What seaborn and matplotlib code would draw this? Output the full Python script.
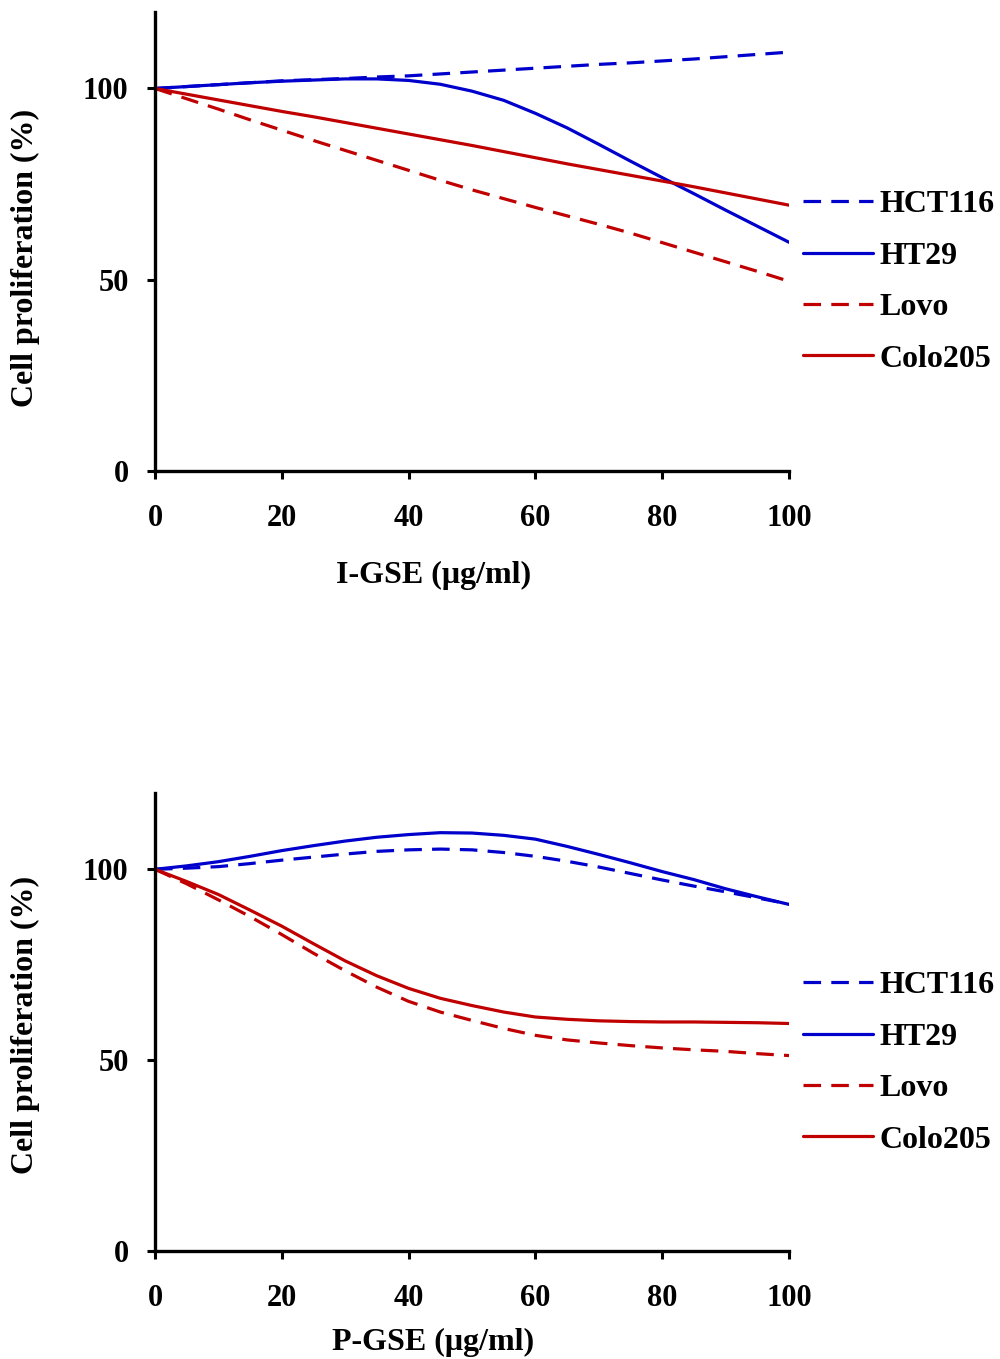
import numpy as np
import pandas as pd
import matplotlib
matplotlib.use("Agg")
import matplotlib.pyplot as plt
import seaborn as sns

dose = [0, 5, 10, 15, 20, 25, 30, 35, 40, 45, 50, 55, 60, 65, 70, 75, 80, 85, 90, 95, 100]

# I-GSE panel
i_hct116 = [100, 100.5, 101.0, 101.5, 102.0, 102.3, 102.6, 103.0, 103.3, 103.8, 104.3,
            104.8, 105.3, 105.8, 106.3, 106.7, 107.2, 107.7, 108.3, 108.9, 109.5]
i_ht29 = [100, 100.5, 101.0, 101.5, 101.9, 102.2, 102.5, 102.5, 102.1, 101.1, 99.3,
          96.9, 93.5, 89.7, 85.4, 81.0, 76.7, 72.5, 68.2, 64.0, 59.8]
i_lovo = [100, 97.3, 94.6, 91.8, 89.1, 86.4, 83.8, 81.2, 78.6, 76.0, 73.5,
          71.2, 68.9, 66.7, 64.5, 62.2, 59.7, 57.2, 54.7, 52.2, 49.6]
i_colo205 = [100, 98.5, 97.0, 95.5, 94.0, 92.6, 91.1, 89.6, 88.1, 86.6, 85.1,
             83.5, 81.9, 80.3, 78.8, 77.3, 75.8, 74.3, 72.7, 71.1, 69.5]

# P-GSE panel
p_hct116 = [100, 100.3, 100.7, 101.5, 102.4, 103.2, 104.0, 104.7, 105.1, 105.3, 105.1,
            104.4, 103.4, 102.1, 100.6, 98.9, 97.2, 95.6, 94.1, 92.5, 90.9]
p_ht29 = [100, 100.9, 102.0, 103.4, 104.9, 106.2, 107.4, 108.4, 109.1, 109.6, 109.5,
          108.9, 107.9, 106.0, 103.9, 101.7, 99.4, 97.3, 94.9, 92.8, 90.8]
p_lovo = [100, 96.2, 92.0, 87.6, 82.9, 78.0, 73.4, 69.1, 65.4, 62.6, 60.4,
          58.3, 56.5, 55.3, 54.5, 53.8, 53.2, 52.7, 52.3, 51.7, 51.2]
p_colo205 = [100, 96.8, 93.4, 89.3, 85.1, 80.5, 76.0, 72.1, 68.8, 66.2, 64.3,
             62.6, 61.3, 60.7, 60.3, 60.1, 60.0, 60.0, 59.9, 59.8, 59.6]

cell_lines = ["HCT116", "HT29", "Lovo", "Colo205"]
xlabels = ["I-GSE (\u03bcg/ml)", "P-GSE (\u03bcg/ml)"]

BLUE = "#0000CC"
RED = "#C00000"
palette = {"HCT116": BLUE, "HT29": BLUE, "Lovo": RED, "Colo205": RED}
dashes = {"HCT116": (5.5, 3.2), "HT29": "", "Lovo": (5.5, 3.2), "Colo205": ""}


def long_form(series):
    rows = []
    for name, vals in zip(cell_lines, series):
        for d, v in zip(dose, vals):
            rows.append({"dose": d, "prolif": v, "line": name})
    return pd.DataFrame(rows)


panels = [long_form([i_hct116, i_ht29, i_lovo, i_colo205]),
          long_form([p_hct116, p_ht29, p_lovo, p_colo205])]

sns.set_style("ticks")
plt.rcParams["font.family"] = ["Liberation Serif", "DejaVu Serif"]
plt.rcParams["font.weight"] = "bold"
plt.rcParams["text.color"] = "black"
plt.rcParams["axes.labelcolor"] = "black"

fig = plt.figure(figsize=(10, 13.59), dpi=100)
ax_rects = [[0.155, 0.6534, 0.634, 0.3378], [0.155, 0.0795, 0.634, 0.3370]]
legend_tops = [190 / 1359, 971 / 1359]
xlabel_y = [-0.2266, -0.1987]
ylabel_y = [0.464, 0.493]

for k in range(2):
    ax = fig.add_axes(ax_rects[k])
    sns.lineplot(data=panels[k], x="dose", y="prolif", hue="line", style="line",
                 palette=palette, dashes=dashes, hue_order=cell_lines,
                 style_order=cell_lines, linewidth=2.3, legend=False, ax=ax)
    ax.set_xlim(0, 100)
    ax.set_ylim(0, 120)
    ax.set_xticks([0, 20, 40, 60, 80, 100])
    ax.set_yticks([0, 50, 100])
    for s in ["top", "right"]:
        ax.spines[s].set_visible(False)
    for s in ["left", "bottom"]:
        ax.spines[s].set_linewidth(2.4)
        ax.spines[s].set_color("black")
    ax.tick_params(direction="out", length=6, width=2.2, labelsize=22,
                   colors="black")
    ax.tick_params(axis="y", pad=13)
    ax.tick_params(axis="x", pad=18)
    for lab in ax.get_xticklabels() + ax.get_yticklabels():
        lab.set_fontweight("bold")
    ax.set_xlabel(xlabels[k], fontsize=23, fontweight="bold", va="center",
                  color="black")
    ax.set_ylabel("Cell proliferation (%)", fontsize=23, fontweight="bold",
                  va="center", color="black")
    ax.xaxis.set_label_coords(0.439, xlabel_y[k])
    ax.yaxis.set_label_coords(-0.205, ylabel_y[k])

    handles = ax.get_lines()[:4]
    leg = fig.legend(handles, cell_lines, loc="upper left",
                     bbox_to_anchor=(0.803, 1 - legend_tops[k]),
                     bbox_transform=fig.transFigure, frameon=False,
                     fontsize=23, handlelength=2.2, handletextpad=0.2,
                     labelspacing=0.69, borderpad=0, borderaxespad=0)
    for t in leg.get_texts():
        t.set_fontweight("bold")
        t.set_color("black")

fig.savefig("out.png", dpi=100)
